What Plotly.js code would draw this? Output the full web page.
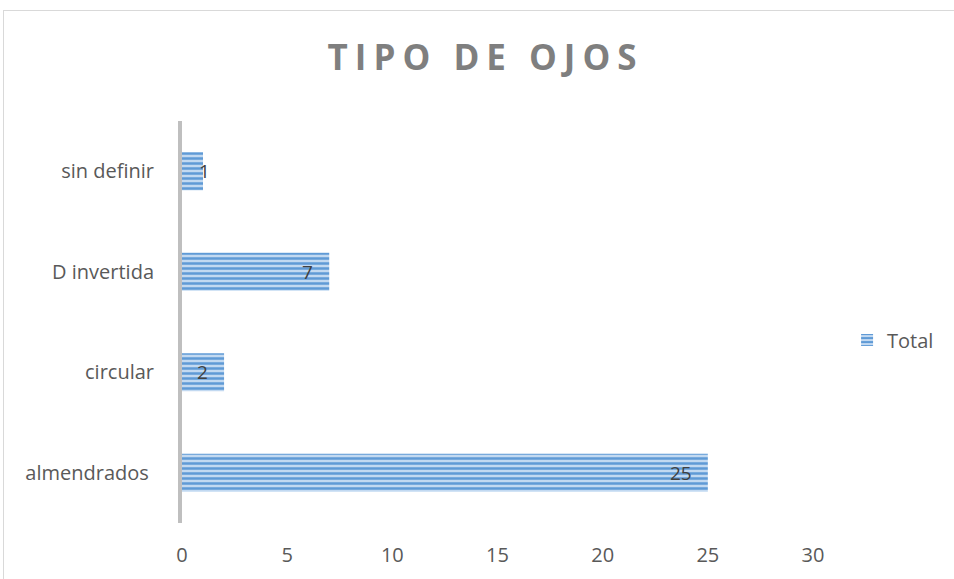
<!DOCTYPE html>
<html>
<head>
<meta charset="utf-8">
<script src="https://cdn.plot.ly/plotly-3.0.1.min.js"></script>
<style>
  html, body { margin: 0; padding: 0; background: #fff; }
  #wrap { position: relative; width: 954px; height: 579px; overflow: hidden; }
  #frame { position: absolute; left: 3px; top: 10px; width: 1000px; height: 700px;
           border-top: 1px solid #d9d9d9; border-left: 1px solid #d9d9d9; pointer-events: none; }
  #chart { position: absolute; left: 0; top: 0; width: 954px; height: 579px; }
  .gtitle { letter-spacing: 7px; }
</style>
</head>
<body>
<div id="wrap">
  <div id="chart"></div>
  <div id="frame"></div>
</div>
<script>
const categories = ["almendrados ", "circular", "D invertida", "sin definir"];
const totals = [25, 2, 7, 1];
const seriesName = "Total";
const xTicks = [0, 5, 10, 15, 20, 25, 30];

const trace = {
  type: "bar",
  orientation: "h",
  name: seriesName,
  y: categories,
  x: totals,
  width: 0.38,
  marker: {
    color: "#b8d2ee",
    line: { width: 0 },
    pattern: { shape: "-", fgcolor: "#5f9ad6", bgcolor: "#c2d9f1", size: 5, solidity: 0.5 }
  },
  showlegend: true,
  hoverinfo: "x+y"
};

// data labels ("inside end"; centred on the bar end when the bar is too short)
const labelAnnotations = categories.map((c, i) => {
  const v = totals[i];
  const small = v < 2;
  return {
    x: v, y: c, xref: "x", yref: "y",
    text: String(v),
    showarrow: false,
    xanchor: small ? "center" : "right",
    xshift: small ? 1 : -14,
    font: { family: "Open Sans, sans-serif", size: 19, color: "#404040" }
  };
});

const layout = {
  width: 954,
  height: 579,
  paper_bgcolor: "#ffffff",
  plot_bgcolor: "#ffffff",
  margin: { l: 182, r: 141, t: 121, b: 56 },
  title: {
    text: "<b>TIPO DE OJOS</b>",
    font: { family: "Open Sans, sans-serif", size: 35, color: "#7f7f7f" },
    x: 0.509, xanchor: "center", xref: "container",
    y: 0.901, yanchor: "middle", yref: "container"
  },
  xaxis: {
    range: [0, 30],
    tickvals: xTicks,
    ticktext: xTicks.map(String),
    showgrid: false,
    zeroline: false,
    showline: false,
    ticks: "",
    ticklabelstandoff: 18,
    tickfont: { family: "Open Sans, sans-serif", size: 20, color: "#595959" },
    fixedrange: true
  },
  yaxis: {
    type: "category",
    categoryorder: "array",
    categoryarray: categories,
    showgrid: false,
    zeroline: false,
    showline: true,
    linecolor: "#bfbfbf",
    linewidth: 4,
    ticks: "",
    ticklabelstandoff: 20,
    tickfont: { family: "Open Sans, sans-serif", size: 20, color: "#595959" },
    fixedrange: true
  },
  legend: {
    x: 1.054, xanchor: "left",
    y: 0.455, yanchor: "middle",
    font: { family: "Open Sans, sans-serif", size: 20, color: "#595959" },
    bgcolor: "rgba(0,0,0,0)",
    itemwidth: 30
  },
  annotations: labelAnnotations,
  showlegend: true
};

Plotly.newPlot("chart", [trace], layout, { displayModeBar: false, staticPlot: true });
</script>
</body>
</html>
